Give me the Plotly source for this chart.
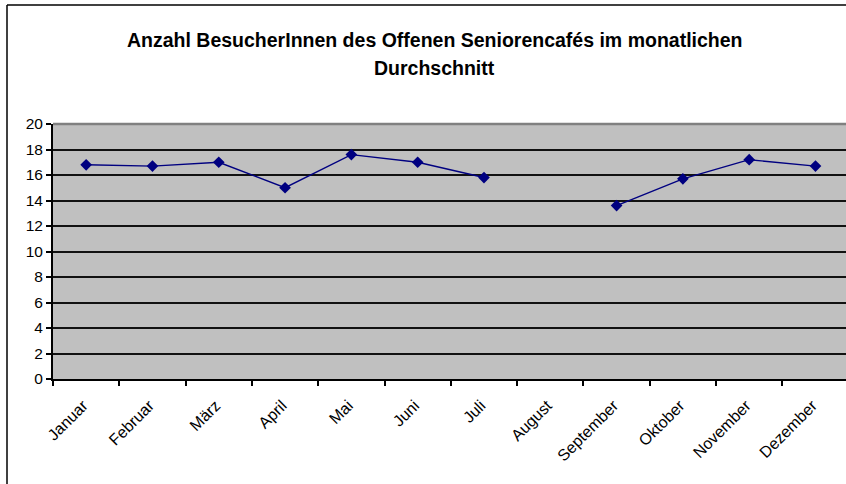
import plotly.graph_objects as go

months = ["Januar", "Februar", "März", "April", "Mai", "Juni", "Juli",
          "August", "September", "Oktober", "November", "Dezember"]
visitors = [16.8, 16.7, 17.0, 15.0, 17.6, 17.0, 15.8, None, 13.6, 15.7, 17.2, 16.7]
y_ticks = list(range(0, 21, 2))

title_line1 = "Anzahl BesucherInnen des Offenen Seniorencafés im monatlichen"
title_line2 = "Durchschnitt"

W, H = 846, 484
L, R, T, B = 53, 0, 124, 105
pw, ph = W - L - R, H - T - B

fig = go.Figure()
fig.add_trace(go.Scatter(
    x=months, y=visitors, mode="lines+markers",
    line=dict(color="#000080", width=1.4),
    marker=dict(symbol="diamond", size=9, color="#000080"),
    connectgaps=False, showlegend=False, hoverinfo="x+y",
))

font = "Liberation Sans, Arial, sans-serif"
fig.update_layout(
    width=W, height=H,
    margin=dict(l=L, r=R, t=T, b=B, pad=0),
    paper_bgcolor="white", plot_bgcolor="#C0C0C0",
    font=dict(family=font, size=15, color="black"),
    xaxis=dict(
        type="category", categoryorder="array", categoryarray=months,
        range=[-0.5, 11.46], tickson="boundaries", ticks="outside", ticklen=5,
        tickwidth=1.5, tickcolor="black", showline=True, linecolor="black",
        linewidth=2, showgrid=False, tickangle=-45, tickfont=dict(size=16),
        fixedrange=True, ticklabelstandoff=9, ticklabelshift=-3,
    ),
    yaxis=dict(
        range=[0, 20], tickvals=y_ticks, ticks="outside", ticklen=5,
        tickwidth=1.5, tickcolor="black", showline=True, linecolor="black",
        linewidth=2, showgrid=True, gridcolor="#111111", gridwidth=2,
        zeroline=False, tickfont=dict(size=15.5), fixedrange=True,
    ),
    annotations=[
        dict(text=f"<b>{title_line1}</b>", xref="paper", yref="paper",
             x=(434 - L) / pw, y=1 + (124 - 40) / ph, showarrow=False,
             font=dict(size=19.5, family=font), xanchor="center", yanchor="middle"),
        dict(text=f"<b>{title_line2}</b>", xref="paper", yref="paper",
             x=(434 - L) / pw, y=1 + (124 - 68) / ph, showarrow=False,
             font=dict(size=19.5, family=font), xanchor="center", yanchor="middle"),
    ],
    shapes=[
        dict(type="line", xref="paper", yref="paper", x0=0, x1=1, y0=1, y1=1,
             line=dict(color="#808080", width=2.5)),
        dict(type="line", xref="paper", yref="paper",
             x0=(7 - L) / pw, x1=(7 - L) / pw, y0=1 + (T - 5) / ph, y1=-(B) / ph - 0.1,
             line=dict(color="black", width=1.5)),
        dict(type="line", xref="paper", yref="paper",
             x0=(7 - L) / pw, x1=1.05, y0=1 + (T - 5) / ph, y1=1 + (T - 5) / ph,
             line=dict(color="black", width=1.5)),
    ],
)

fig.write_html(
    "out.html",
    config={"displayModeBar": False},
    post_script="document.body.style.margin='0';document.body.style.overflow='hidden';",
)
